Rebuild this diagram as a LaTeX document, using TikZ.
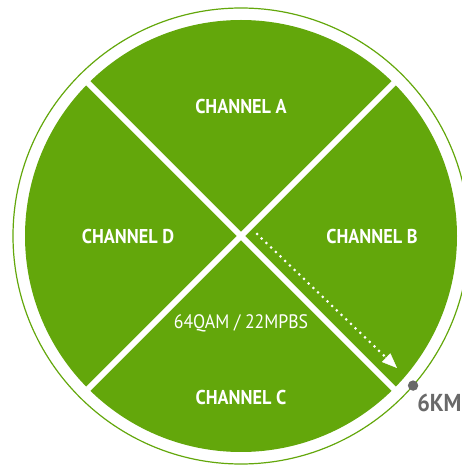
\documentclass[tikz,border=0pt]{standalone}
\usepackage{fontspec}
\setmainfont{PT Sans}[FakeStretch=0.91]
\usepackage{xcolor}
\usetikzlibrary{arrows.meta,positioning,calc}
\definecolor{chgreen}{RGB}{99,167,11}
\definecolor{chgray}{RGB}{105,105,105}

\begin{document}
\begin{tikzpicture}[
  x=1pt, y=1pt,
  chan/.style={text=white, font=\fontsize{20}{22}\selectfont\bfseries},
  rate/.style={text=white, font=\fontsize{19.5}{22}\selectfont},
  split/.style={white, line width=6pt},
  reach/.style={white, line width=3pt, dash pattern=on 0pt off 6.5pt, line cap=round},
  tip/.style={white, -{Triangle[length=15pt, width=12pt]}},
  dist/.style={text=chgray, font=\fontsize{24.5}{26}\selectfont\bfseries}
]
\useasboundingbox (0,0) rectangle (462,466);
\coordinate (c) at (241,230);
% coverage area
\draw[chgreen, line width=1.2pt] (c) circle[radius=228];
\fill[chgreen] (c) circle[radius=216];
\draw[split] (c) -- ++(45:216.5);
\draw[split] (c) -- ++(135:216.5);
\draw[split] (c) -- ++(225:216.5);
\draw[split] (c) -- ++(315:216.5);
% sectors
\node[chan] (cha) at (241,359) {CHANNEL A};
\node[chan] (chb) at (372,229) {CHANNEL B};
\node[chan] (chc) at (241,68)  {CHANNEL C};
\node[chan] (chd) at (128,229) {CHANNEL D};
\node[rate] (mod) at (241,143) {64QAM / 22MPBS};
% range
\coordinate (rs) at (257,232);
\coordinate (re) at (397,98);
\coordinate (rm) at ($(re)!16pt!(rs)$);
\draw[reach] (rs) -- (rm);
\draw[tip] (rm) -- (re);
\fill[chgray] (c) ++(-41:228) coordinate (edge) circle[radius=5.2];
\node[dist, anchor=north west, inner sep=0pt] (km) at ([xshift=4pt,yshift=-8pt]edge) {6KM};
\end{tikzpicture}
\end{document}
